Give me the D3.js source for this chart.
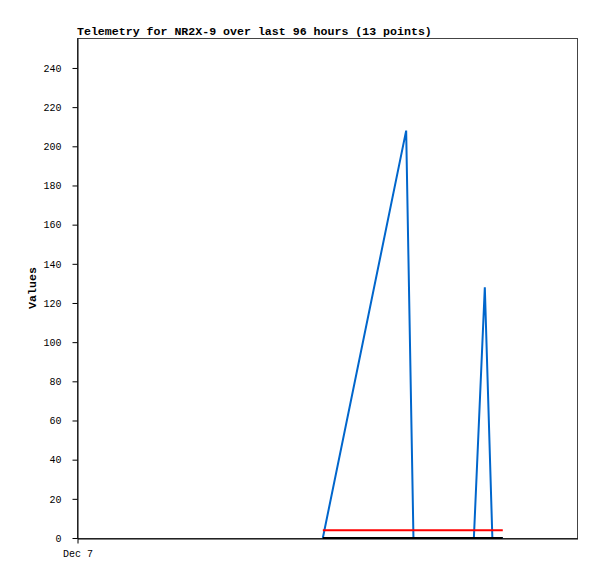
<!DOCTYPE html>
<html>
<head>
<meta charset="utf-8">
<script src="https://d3js.org/d3.v7.min.js"></script>
<style>
  body { margin: 0; background: #fff; }
  text { font-family: "Liberation Mono", "DejaVu Sans Mono", monospace; }
</style>
</head>
<body>
<div id="chart"></div>
<script>
// Data (hours since Dec 7 00:00)
const hours = [47.2, 63.2, 64.6, 76.2, 78.3, 79.75, 81.75];
const blueValues = [0, 208, 0, 0, 128, 0, 0];
const redValues = [4, 4, 4, 4, 4, 4, 4];
const blackValues = [0, 0, 0, 0, 0, 0, 0];
const yTicks = [0, 20, 40, 60, 80, 100, 120, 140, 160, 180, 200, 220, 240];

const W = 597, H = 579;
const margin = { top: 38, right: 20, bottom: 41, left: 77 };
const width = W - margin.left - margin.right;
const height = H - margin.top - margin.bottom;

const start = new Date(2024, 11, 7, 0, 0);
const toDate = h => new Date(start.getTime() + h * 3600 * 1000);

const svg = d3.select("#chart").append("svg")
  .attr("width", W).attr("height", H);

svg.append("rect").attr("width", W).attr("height", H).attr("fill", "#fff");

const g = svg.append("g").attr("transform", `translate(${margin.left},${margin.top})`);

const x = d3.scaleTime().domain([start, toDate(96)]).range([0, width]);
const y = d3.scaleLinear().domain([0, 255.3]).range([height, 0]);

// Frame
g.append("rect")
  .attr("x", 0.5).attr("y", 0.5)
  .attr("width", width).attr("height", height)
  .attr("fill", "none").attr("stroke", "#444");

// Y axis
const yAxis = g.append("g").attr("transform", "translate(0.5,0)")
  .call(d3.axisLeft(y).tickValues(yTicks).tickSize(5).tickSizeOuter(0).tickPadding(11).tickFormat(d3.format("d")));
yAxis.select(".domain").attr("stroke", "#000");
yAxis.selectAll("line").attr("stroke", "#000");
yAxis.selectAll("text").attr("font-size", "10px").attr("fill", "#000");

// X axis
const xAxis = g.append("g").attr("transform", `translate(0.5,${height + 0.5})`)
  .call(d3.axisBottom(x).tickValues([start]).tickSize(5).tickSizeOuter(0).tickPadding(6).tickFormat(d3.timeFormat("%b %-d")));
xAxis.select(".domain").attr("stroke", "#000");
xAxis.selectAll("line").attr("stroke", "#000");
xAxis.selectAll("text").attr("font-size", "10px").attr("fill", "#000");

// Lines
const line = vals => d3.line()
  .x((d, i) => x(toDate(hours[i])))
  .y(d => y(d))(vals);

g.append("path").attr("d", line(blueValues))
  .attr("fill", "none").attr("stroke", "#0066cc").attr("stroke-width", 2);
g.append("path").attr("d", line(redValues))
  .attr("fill", "none").attr("stroke", "#ff0000").attr("stroke-width", 2);
g.append("path").attr("d", line(blackValues))
  .attr("fill", "none").attr("stroke", "#000").attr("stroke-width", 2);

// Title
svg.append("text")
  .attr("x", margin.left).attr("y", 35)
  .attr("font-size", "11.6px").attr("font-weight", "bold")
  .text("Telemetry for NR2X-9 over last 96 hours (13 points)");

// Y label
svg.append("text")
  .attr("transform", `translate(36,${margin.top + height / 2}) rotate(-90)`)
  .attr("text-anchor", "middle")
  .attr("font-size", "11.6px").attr("font-weight", "bold")
  .text("Values");
</script>
</body>
</html>
